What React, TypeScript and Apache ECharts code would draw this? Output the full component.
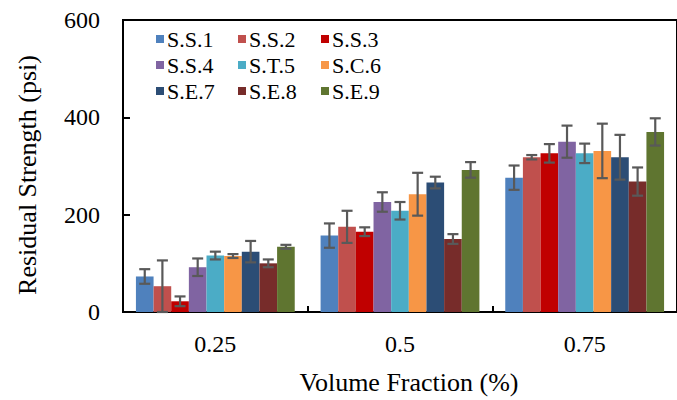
import React, { useEffect, useRef } from "react";
import * as echarts from "echarts";

const categories = ["0.25", "0.5", "0.75"];
const seriesNames = ["S.S.1", "S.S.2", "S.S.3", "S.S.4", "S.T.5", "S.C.6", "S.E.7", "S.E.8", "S.E.9"];
const colors = ["#4F81BD", "#C0504D", "#C00000", "#8064A2", "#4BACC6", "#F79646", "#2C4D75", "#772C2A", "#5F7530"];

const ss1 = [73, 157, 276];
const ss2 = [53, 175, 318];
const ss3 = [22, 165, 326];
const ss4 = [92, 226, 350];
const st5 = [116, 208, 326];
const sc6 = [115, 242, 331];
const se7 = [124, 266, 318];
const se8 = [100, 150, 268];
const se9 = [134, 292, 370];

const ss1Err = [15, 25, 25];
const ss2Err = [53, 33, 4.5];
const ss3Err = [10, 9, 19];
const ss4Err = [18, 20, 33];
const st5Err = [8, 18, 20];
const sc6Err = [4, 44, 56];
const se7Err = [22, 12, 46];
const se8Err = [8, 10, 29];
const se9Err = [4, 16, 28];

const yTicks = { min: 0, max: 600, interval: 200 };

const means = [ss1, ss2, ss3, ss4, st5, sc6, se7, se8, se9];
const errs = [ss1Err, ss2Err, ss3Err, ss4Err, st5Err, sc6Err, se7Err, se8Err, se9Err];

const FONT = "Liberation Serif";
const GAP = 0.14;

export default function App() {
  const ref = useRef<HTMLDivElement>(null);
  useEffect(() => {
    if (!ref.current) return;
    const chart = echarts.init(ref.current, null, { renderer: "svg" });

    const errData: number[][] = [];
    means.forEach((arr, si) =>
      arr.forEach((m, ci) => errData.push([ci, m, errs[si][ci], si]))
    );

    const barSeries = seriesNames.map((name, i) => ({
      name,
      type: "bar",
      data: means[i],
      barGap: "0%",
      barCategoryGap: GAP * 100 + "%",
      itemStyle: { color: colors[i] },
      z: 2,
    }));

    const errSeries = {
      type: "custom",
      name: "err",
      z: 5,
      encode: { x: 0, y: 1 },
      data: errData,
      renderItem: (params: any, api: any) => {
        const ci = api.value(0);
        const m = api.value(1);
        const e = api.value(2);
        const si = api.value(3);
        const center = api.coord([ci, m]);
        const band = api.size([1, 0])[0];
        const groupW = band * (1 - GAP);
        const barW = groupW / seriesNames.length;
        const x = center[0] - groupW / 2 + (si + 0.5) * barW;
        const top = api.coord([ci, m + e])[1];
        const bot = api.coord([ci, Math.max(0, m - e)])[1];
        const cap = 5.5;
        const style = { stroke: "#595959", lineWidth: 2.2 };
        return {
          type: "group",
          children: [
            { type: "line", shape: { x1: x, y1: top, x2: x, y2: bot }, style },
            { type: "line", shape: { x1: x - cap, y1: top, x2: x + cap, y2: top }, style },
            { type: "line", shape: { x1: x - cap, y1: bot, x2: x + cap, y2: bot }, style },
          ],
        };
      },
    };

    const cols = [
      [0, 3, 6],
      [1, 4, 7],
      [2, 5, 8],
    ];
    const legendLefts = [156, 238, 321];
    const legends = cols.map((c, k) => ({
      orient: "vertical",
      left: legendLefts[k],
      top: 28,
      padding: 0,
      itemGap: 4,
      itemWidth: 8,
      itemHeight: 8,
      icon: "rect",
      data: c.map((i) => seriesNames[i]),
      textStyle: { fontFamily: FONT, fontSize: 22, color: "#000", padding: [0, 0, 0, -2] },
    }));

    chart.setOption({
      animation: false,
      legend: legends,
      grid: {
        left: 123,
        top: 20,
        width: 559,
        height: 293,
        show: true,
        borderColor: "#000",
        borderWidth: 2,
        backgroundColor: "transparent",
      },
      xAxis: {
        type: "category",
        data: categories,
        axisLine: { show: true, lineStyle: { color: "#000", width: 2 } },
        axisTick: { show: true, inside: true, length: 6, lineStyle: { color: "#000", width: 2 } },
        axisLabel: { fontFamily: FONT, fontSize: 24, color: "#000", margin: 20 },
        name: "Volume Fraction (%)",
        nameLocation: "middle",
        nameGap: 57,
        nameTextStyle: { fontFamily: FONT, fontSize: 26, color: "#000", padding: [0, 0, 0, 18] },
      },
      yAxis: {
        type: "value",
        min: yTicks.min,
        max: yTicks.max,
        interval: yTicks.interval,
        splitLine: { show: false },
        axisLine: { show: true, lineStyle: { color: "#000", width: 2 } },
        axisTick: { show: true, inside: true, length: 7, lineStyle: { color: "#000", width: 2 } },
        axisLabel: { fontFamily: FONT, fontSize: 24, color: "#000", margin: 23 },
        name: "Residual Strength (psi)",
        nameLocation: "middle",
        nameGap: 83,
        nameTextStyle: { fontFamily: FONT, fontSize: 26, color: "#000", padding: [0, 18, 0, 0] },
      },
      series: [...barSeries, errSeries],
    });
    return () => chart.dispose();
  }, []);
  return (
    <div
      ref={ref}
      style={{ position: "absolute", left: 0, top: 0, width: 677, height: 400, background: "#fff" }}
    />
  );
}
